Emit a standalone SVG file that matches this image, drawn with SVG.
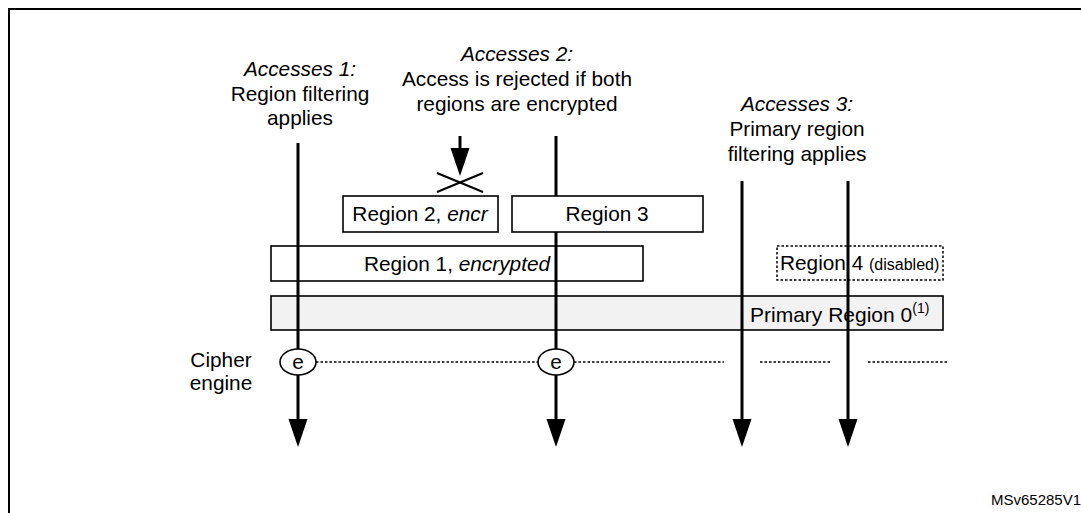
<svg xmlns="http://www.w3.org/2000/svg" width="1081" height="513" viewBox="0 0 1081 513">
<style>
text{font-family:"Liberation Sans",Arial,sans-serif;font-size:20.8px;fill:#000}
.it{font-style:italic}
.c{text-anchor:middle}
.box{fill:#fff;stroke:#000;stroke-width:1.6}
.prim{fill:#f2f2f2;stroke:#000;stroke-width:1.6}
.dis{fill:none;stroke:#000;stroke-width:1.5;stroke-dasharray:2.5,2}
.flow{stroke:#000;stroke-width:3;fill:none}
.dot{stroke:#000;stroke-width:1.5;stroke-dasharray:2.5,2;fill:none}
.eng{fill:#fff;stroke:#000;stroke-width:1.6}
</style>
<defs>
<marker id="ah" viewBox="0 -10 28 20" refX="4" refY="0" markerWidth="28" markerHeight="20" markerUnits="userSpaceOnUse" orient="auto">
<path d="M0,-9.5 L28,0 L0,9.5 z" fill="#000"/>
</marker>
</defs>
<rect x="9" y="9" width="1100" height="520" fill="none" stroke="#000" stroke-width="2"/>

<g id="labels">
<text class="c it" x="300" y="76">Accesses 1:</text>
<text class="c" x="300" y="101">Region filtering</text>
<text class="c" x="300" y="125">applies</text>
<text class="c it" x="517" y="61">Accesses 2:</text>
<text class="c" x="517" y="86">Access is rejected if both</text>
<text class="c" x="517" y="111">regions are encrypted</text>
<text class="c it" x="797" y="111">Accesses 3:</text>
<text class="c" x="797" y="136">Primary region</text>
<text class="c" x="797" y="161">filtering applies</text>
<text class="c" x="221" y="367">Cipher</text>
<text class="c" x="221" y="390">engine</text>
<text x="991" y="505" style="font-size:15px">MSv65285V1</text>
</g>

<g id="region1">
<rect class="box" x="271" y="246" width="372" height="35"/>
<text class="c" x="457" y="271">Region 1, <tspan class="it">encrypted</tspan></text>
</g>
<g id="region4">
<rect class="dis" x="777" y="246" width="166" height="34"/>
<text x="780" y="270">Region 4 <tspan style="font-size:16px">(disabled)</tspan></text>
</g>
<g id="region0">
<rect class="prim" x="271" y="296" width="672" height="34"/>
<text x="750" y="322" style="font-size:21px">Primary Region 0<tspan dy="-9" style="font-size:14px">(1)</tspan></text>
</g>

<g id="connectors">
<line class="flow" x1="298" y1="143" x2="298" y2="423" marker-end="url(#ah)"/>
<line class="flow" x1="556" y1="136" x2="556" y2="423" marker-end="url(#ah)"/>
<line class="flow" x1="742" y1="181" x2="742" y2="423" marker-end="url(#ah)"/>
<line class="flow" x1="848" y1="181" x2="848" y2="423" marker-end="url(#ah)"/>
<line class="flow" x1="460" y1="136" x2="460" y2="152" marker-end="url(#ah)"/>
<path class="dot" d="M316,362 H538 M574,362 H724 M760,362 H831 M868,362 H947"/>
</g>

<g id="reject">
<path d="M437,173 L483,192 M437,192 L483,173" stroke="#000" stroke-width="2.2" fill="none"/>
</g>
<g id="region2">
<rect class="box" x="343" y="196" width="155" height="36"/>
<text class="c" x="420" y="221">Region 2, <tspan class="it">encr</tspan></text>
</g>
<g id="region3">
<rect class="box" x="512" y="196" width="191" height="36"/>
<text class="c" x="607" y="221">Region 3</text>
</g>
<g id="engine1">
<ellipse class="eng" cx="298" cy="362" rx="18" ry="13"/>
<text class="c" x="298" y="369">e</text>
</g>
<g id="engine2">
<ellipse class="eng" cx="556" cy="362" rx="18" ry="13"/>
<text class="c" x="556" y="369">e</text>
</g>
</svg>
